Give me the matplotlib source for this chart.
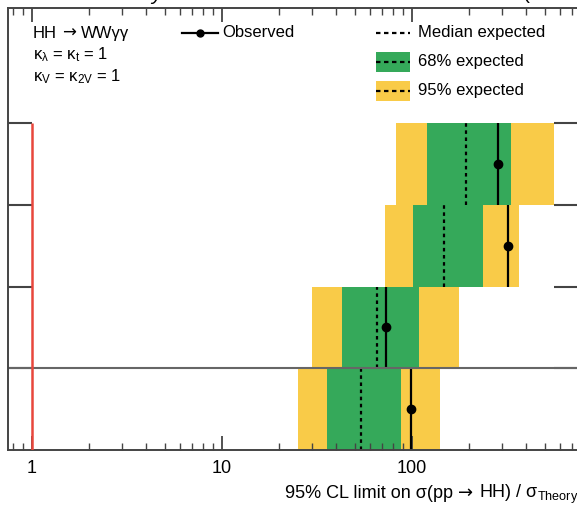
import matplotlib.pyplot as plt
from matplotlib.patches import Rectangle
from matplotlib.lines import Line2D

plt.rcParams['font.family'] = ['Liberation Sans', 'DejaVu Sans']
plt.rcParams['mathtext.fontset'] = 'custom'
plt.rcParams['mathtext.rm'] = 'Liberation Sans'
plt.rcParams['mathtext.it'] = 'Liberation Sans:italic'
plt.rcParams['mathtext.bf'] = 'Liberation Sans:bold'
plt.rcParams['mathtext.default'] = 'regular'

# limits per row, bottom row first
exp_lo95 = [25.2, 30.0, 72.5, 82.6]
exp_lo68 = [35.6, 42.9, 101, 121]
exp_median = [53.8, 65.6, 147, 193]
exp_hi68 = [88.1, 109, 237, 335]
exp_hi95 = [140, 177, 367, 562]
observed = [99.4, 73.4, 323, 285]

yellow = '#f9cb48'
green = '#35a95a'
W, H = 577, 509

fig = plt.figure(figsize=(W / 100, H / 100), dpi=100)
ax = fig.add_axes([8 / W, 59 / H, 570 / W, 442 / H])
ax.set_xscale('log')
ax.set_xlim(0.75, 750)
ax.set_ylim(0, 5.41)

for i in range(len(observed)):
    ax.barh(i + 0.5, exp_hi95[i] - exp_lo95[i], left=exp_lo95[i], height=1,
            color=yellow, lw=0)
    ax.barh(i + 0.5, exp_hi68[i] - exp_lo68[i], left=exp_lo68[i], height=1,
            color=green, lw=0)
    ax.vlines(exp_median[i], i, i + 1, colors='black', lw=1.6,
              linestyles=(0, (1.6, 1.6)))
    ax.vlines(observed[i], i, i + 1, colors='black', lw=1.6)
    ax.plot(observed[i], i + 0.5, 'o', color='black', ms=6)

ax.axhline(1, color='#666666', lw=1.5)
ax.vlines(1, 0, 4, colors='#e8463c', lw=1.8, zorder=5)

for s in ax.spines.values():
    s.set_color('#444444')
    s.set_linewidth(1.4)

ax.set_yticks([1, 2, 3, 4])
ax.set_yticklabels([])
ax.tick_params(axis='y', which='major', direction='in', length=17,
               width=1.5, left=True, right=True, color='#444444')
ax.tick_params(axis='y', which='minor', left=False, right=False)
ax.tick_params(axis='x', which='major', direction='in', length=10,
               width=1.3, top=True, labelsize=13, pad=7, color='#444444')
ax.tick_params(axis='x', which='minor', direction='in', length=5,
               width=1, top=True, color='#444444')
ax.set_xticks([1, 10, 100])
ax.set_xticklabels(['1', '10', '100'])

renderer = fig.canvas.get_renderer()


def ax_pt(px, py):
    return (px - 8) / 570, (450 - py) / 442


def text_row(px, py, pieces, size, ha='left'):
    # lay text pieces side by side on one baseline, pixel positions
    gap = 0.3 * size * 100 / 72
    texts = []
    for s, fam in pieces:
        kw = {'family': fam} if fam else {}
        texts.append(fig.text(0, 1 - py / H, s, fontsize=size,
                              va='baseline', **kw))
    widths = [t.get_window_extent(renderer).width for t in texts]
    total = sum(widths) + gap * (len(texts) - 1)
    x = px - total if ha == 'right' else px
    for t, w in zip(texts, widths):
        t.set_x(x / W)
        x += w + gap


# x axis title, arrow taken from DejaVu Sans
text_row(578, 498, [('95% CL limit on σ(pp', None), ('→', 'DejaVu Sans'),
                    ('HH) / σ$_{Theory}$', None)], 13, ha='right')

tr = ax.transAxes
# text block
text_row(33, 38, [('HH', None), ('→', 'DejaVu Sans'), ('WWγγ', None)], 12)
ax.text(*ax_pt(33, 55), r'$\kappa_{\lambda}$ = $\kappa_{t}$ = 1', transform=tr,
        fontsize=12, va='center')
ax.text(*ax_pt(33, 77), r'$\kappa_{V}$ = $\kappa_{2V}$ = 1', transform=tr,
        fontsize=12, va='center')

# legend
x0, y0 = ax_pt(182, 33)
x1, _ = ax_pt(218, 33)
ax.add_line(Line2D([x0, x1], [y0, y0], transform=tr, color='black', lw=1.6))
ax.plot([(x0 + x1) / 2], [y0], 'o', color='black', ms=5, transform=tr)
ax.text(*ax_pt(222, 33), 'Observed', transform=tr, fontsize=12, va='center')

lx0, _ = ax_pt(376, 0)
lx1, _ = ax_pt(410, 0)
entries = [(33, None, 'Median expected'),
           (62, green, '68% expected'),
           (91, yellow, '95% expected')]
for py, col, label in entries:
    _, yc = ax_pt(0, py)
    if col is not None:
        _, yb = ax_pt(0, py + 10)
        ax.add_patch(Rectangle((lx0, yb), lx1 - lx0, 20 / 442, transform=tr,
                               facecolor=col, lw=0))
    ax.add_line(Line2D([lx0, lx1], [yc, yc], transform=tr, color='black',
                       lw=1.6, linestyle=(0, (2, 1.6))))
    ax.text(*ax_pt(418, py), label, transform=tr, fontsize=12, va='center')

# header, sitting on the top edge of the canvas
fig.text(11 / W, 1.0, 'CMS', fontsize=15, fontweight='bold', va='baseline')
fig.text(58 / W, 1.0, 'Preliminary', fontsize=15, fontstyle='italic',
         va='baseline')
fig.text(441 / W, 1.0, '138 fb$^{-1}$ (13 TeV)', fontsize=15, va='baseline')

fig.savefig('out.png', dpi=100)
